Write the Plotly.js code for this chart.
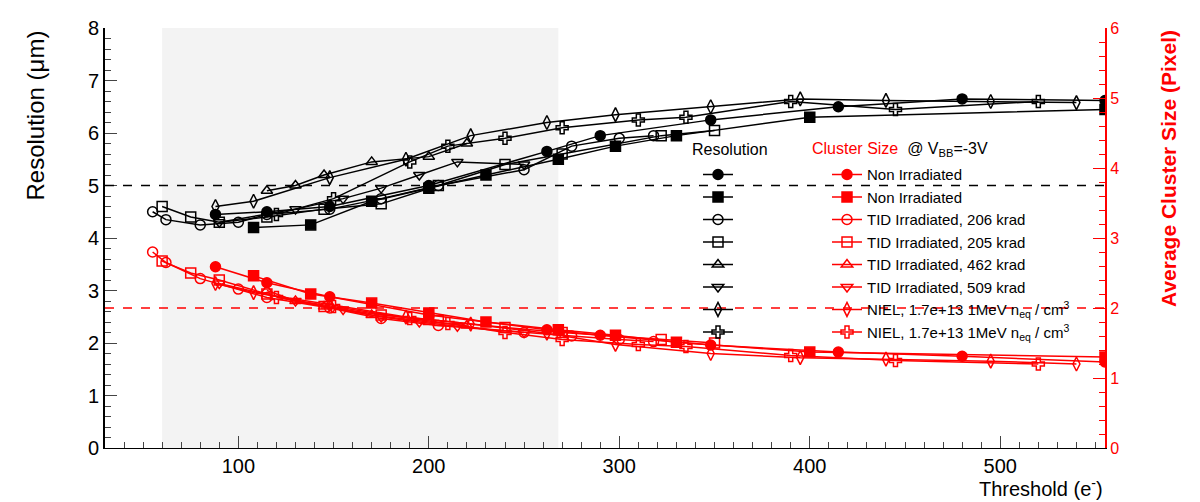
<!DOCTYPE html>
<html>
<head>
<meta charset="utf-8">
<script src="https://cdn.plot.ly/plotly-3.0.1.min.js"></script>
<style>body{margin:0;background:#fff}#chart{width:1200px;height:502px}</style>
</head>
<body>
<div id="chart"></div>
<script>
// Values: resolution in um, cluster size in pixels
const labels = ['Non Irradiated', 'Non Irradiated', 'TID Irradiated, 206 krad', 'TID Irradiated, 205 krad',
  'TID Irradiated, 462 krad', 'TID Irradiated, 509 krad',
  'NIEL, 1.7e+13 1MeV n<sub>eq</sub> / cm<sup>3</sup>', 'NIEL, 1.7e+13 1MeV n<sub>eq</sub> / cm<sup>3</sup>'];
const symbols = ['circle', 'square', 'circle-open', 'square-open', 'triangle-up-open', 'triangle-down-open', 'diamond-tall-open', 'cross-open'];

const thr0 = [88, 115, 148, 200, 262, 290, 348, 415, 480, 555];
const res0 = [4.45, 4.5, 4.6, 5.0, 5.65, 5.95, 6.25, 6.5, 6.65, 6.62];
const cls0 = [2.59, 2.36, 2.16, 1.9, 1.69, 1.61, 1.47, 1.37, 1.31, 1.23];

const thr1 = [108, 138, 170, 200, 230, 268, 298, 330, 400, 555];
const res1 = [4.2, 4.25, 4.7, 4.95, 5.2, 5.5, 5.75, 5.95, 6.3, 6.45];
const cls1 = [2.46, 2.2, 2.07, 1.93, 1.8, 1.69, 1.61, 1.51, 1.37, 1.3];

const thr2 = [55, 62, 80, 100, 115, 148, 175, 205, 250, 275, 300, 318];
const res2 = [4.5, 4.35, 4.25, 4.3, 4.45, 4.55, 4.75, 5.0, 5.3, 5.75, 5.9, 5.95];
const cls2 = [2.8, 2.65, 2.42, 2.27, 2.15, 2.0, 1.85, 1.75, 1.65, 1.6, 1.55, 1.52];

const thr3 = [60, 75, 90, 115, 145, 175, 205, 240, 270, 322, 350];
const res3 = [4.6, 4.4, 4.3, 4.4, 4.55, 4.65, 5.0, 5.4, 5.6, 5.95, 6.05];
const cls3 = [2.67, 2.5, 2.4, 2.2, 2.02, 1.9, 1.82, 1.72, 1.65, 1.55, 1.5];

const thr4 = [115, 130, 145, 170, 200, 220];
const res4 = [4.9, 5.0, 5.2, 5.45, 5.55, 5.8];
const cls4 = [2.25, 2.1, 2.02, 1.9, 1.8, 1.75];

const thr5 = [90, 130, 155, 175, 195, 215, 250];
const res5 = [4.3, 4.55, 4.75, 4.95, 5.2, 5.45, 5.4];
const cls5 = [2.35, 2.1, 1.98, 1.87, 1.8, 1.74, 1.65];

const thr6 = [88, 108, 148, 188, 222, 262, 298, 348, 395, 440, 495, 540];
const res6 = [4.6, 4.7, 5.15, 5.5, 5.95, 6.2, 6.35, 6.5, 6.65, 6.62, 6.6, 6.58];
const cls6 = [2.35, 2.22, 2.05, 1.87, 1.77, 1.64, 1.48, 1.35, 1.29, 1.27, 1.24, 1.2];

const thr7 = [120, 150, 190, 210, 240, 270, 310, 335, 390, 445, 520];
const res7 = [4.45, 4.75, 5.45, 5.75, 5.9, 6.1, 6.25, 6.3, 6.6, 6.45, 6.6];
const cls7 = [2.15, 2.02, 1.85, 1.78, 1.65, 1.55, 1.48, 1.45, 1.32, 1.25, 1.2];

const thrs = [thr0, thr1, thr2, thr3, thr4, thr5, thr6, thr7];
const ress = [res0, res1, res2, res3, res4, res5, res6, res7];
const clss = [cls0, cls1, cls2, cls3, cls4, cls5, cls6, cls7];

const data = [];
thrs.forEach((t, i) => {
  data.push({
    x: t, y: ress[i], mode: 'lines+markers', name: ' ', legend: 'legend',
    line: { color: 'black', width: 1.5 },
    marker: { symbol: symbols[i], size: 10, color: 'black', line: { color: 'black', width: 1.5 } }
  });
});
thrs.forEach((t, i) => {
  data.push({
    x: t, y: clss[i], yaxis: 'y2', mode: 'lines+markers', name: labels[i], legend: 'legend2',
    line: { color: 'red', width: 1.5 },
    marker: { symbol: symbols[i], size: 10, color: 'red', line: { color: 'red', width: 1.5 } }
  });
});

const fam = 'Liberation Sans, Arial';
const font = { family: fam, size: 20, color: 'black' };
const legFont = { family: fam, size: 15, color: 'black' };

const layout = {
  width: 1200, height: 502,
  paper_bgcolor: '#fff', plot_bgcolor: '#fff',
  margin: { l: 105, r: 95, t: 28, b: 54 },
  font: font,
  showlegend: true,
  legend: { x: 0.593, y: 0.69, xanchor: 'left', yanchor: 'top', bgcolor: 'rgba(0,0,0,0)',
    font: legFont, itemwidth: 30, tracegroupgap: 0 },
  legend2: { x: 0.722, y: 0.69, xanchor: 'left', yanchor: 'top', bgcolor: 'rgba(0,0,0,0)',
    font: legFont, itemwidth: 30, tracegroupgap: 0 },
  xaxis: {
    range: [30, 555], tickvals: [100, 200, 300, 400, 500], ticks: 'inside', ticklen: 12,
    showgrid: false, zeroline: false, showline: true, linecolor: 'black', linewidth: 1,
    minor: { dtick: 10, ticks: 'inside', ticklen: 6 }, tickfont: font
  },
  yaxis: {
    range: [0, 8], dtick: 1, ticks: 'inside', ticklen: 12, showgrid: false, zeroline: false,
    showline: true, linecolor: 'black', linewidth: 2,
    minor: { dtick: 0.2, ticks: 'inside', ticklen: 6 }, tickfont: font
  },
  yaxis2: {
    range: [0, 6], dtick: 1, overlaying: 'y', side: 'right', ticks: 'inside', ticklen: 12,
    showgrid: false, zeroline: false, showline: true, linecolor: 'red', linewidth: 2,
    tickcolor: 'red', minor: { dtick: 0.2, ticks: 'inside', ticklen: 6, tickcolor: 'red' },
    tickfont: { family: fam, size: 16, color: 'red' }
  },
  shapes: [
    { type: 'rect', xref: 'x', yref: 'paper', x0: 60, x1: 268, y0: 0, y1: 1, fillcolor: '#f3f3f3', line: { width: 0 }, layer: 'below' },
    { type: 'line', xref: 'paper', yref: 'y', x0: 0, x1: 1, y0: 5, y1: 5, line: { color: 'black', width: 1.5, dash: 'dash' } },
    { type: 'line', xref: 'paper', yref: 'y2', x0: 0, x1: 1, y0: 2, y1: 2, line: { color: 'red', width: 1.5, dash: 'dash' } }
  ],
  annotations: [
    { text: 'Resolution (μm)', xref: 'paper', yref: 'paper', x: -0.055, y: 1, xanchor: 'right', yanchor: 'top',
      textangle: -90, showarrow: false, font: { family: fam, size: 24 } },
    { text: 'Threshold (e<sup>-</sup>)', xref: 'paper', yref: 'paper', x: 1, y: -0.06, xanchor: 'right', yanchor: 'top',
      showarrow: false, font: { family: fam, size: 20 } },
    { text: '<b>Average Cluster Size (Pixel)</b>', xref: 'paper', yref: 'paper', x: 1.05, y: 1, xanchor: 'left', yanchor: 'top',
      textangle: -90, showarrow: false, font: { family: fam, size: 21, color: 'red' } },
    { text: 'Resolution', xref: 'paper', yref: 'paper', x: 0.585, y: 0.71, xanchor: 'left', yanchor: 'middle',
      showarrow: false, font: { family: fam, size: 16 } },
    { text: '<span style="color:red">Cluster Size</span>  @ V<sub>BB</sub>=-3V', xref: 'paper', yref: 'paper', x: 0.705, y: 0.71,
      xanchor: 'left', yanchor: 'middle', showarrow: false, font: { family: fam, size: 16 } }
  ]
};

Plotly.newPlot('chart', data, layout, { displayModeBar: false });
</script>
</body>
</html>
